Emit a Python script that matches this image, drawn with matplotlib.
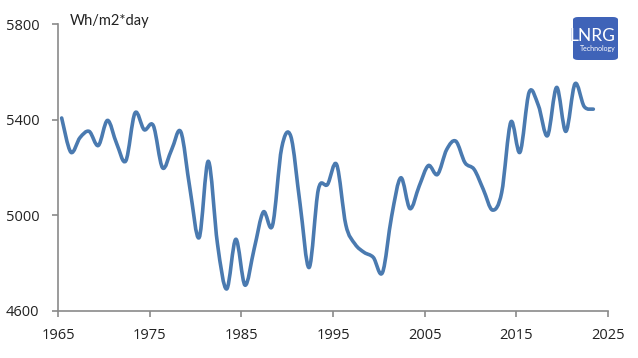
import matplotlib
matplotlib.use("Agg")
import matplotlib.pyplot as plt
import numpy as np
from matplotlib.path import Path
from matplotlib.patches import PathPatch, FancyBboxPatch

# yearly values, first point sits a bit after 1965 on the axis
x_start = 1965.4
values = [5407, 5264, 5325, 5351, 5292, 5397, 5300, 5228, 5428, 5358,
          5375, 5199, 5275, 5349, 5110, 4907, 5226, 4880, 4692, 4900,
          4708, 4860, 5014, 4958, 5282, 5330, 5050, 4782, 5108, 5129,
          5212, 4960, 4880, 4845, 4824, 4761, 4997, 5157, 5028, 5122,
          5208, 5171, 5275, 5310, 5220, 5192, 5108, 5022, 5095, 5390,
          5264, 5515, 5460, 5333, 5535, 5351, 5550, 5455, 5444]
years = [x_start + i for i in range(len(values))]

x_ticks = [1965, 1975, 1985, 1995, 2005, 2015, 2025]
y_ticks = [4600, 5000, 5400, 5800]
unit_label = "Wh/m2*day"

line_color = "#4a7ab0"
axis_color = "#8a8a8a"
logo_blue = "#3f63b8"

plt.rcParams['font.family'] = ['Open Sans', 'DejaVu Sans']

fig = plt.figure(figsize=(6.38, 3.58), dpi=100)
ax = fig.add_axes([58 / 638, 1 - 311 / 358, 550 / 638, 287 / 358])


# smoothed line like a spreadsheet "smooth line": catmull-rom as cubic beziers
def smooth_path(xs, ys):
    pts = np.column_stack([xs, ys]).astype(float)
    n = len(pts)
    verts = [pts[0]]
    codes = [Path.MOVETO]
    for i in range(n - 1):
        p0 = pts[i - 1] if i > 0 else pts[i]
        p1 = pts[i]
        p2 = pts[i + 1]
        p3 = pts[i + 2] if i + 2 < n else pts[i + 1]
        c1 = p1 + (p2 - p0) / 6.0
        c2 = p2 - (p3 - p1) / 6.0
        verts += [c1, c2, p2]
        codes += [Path.CURVE4] * 3
    return Path(verts, codes)


patch = PathPatch(smooth_path(years, values), facecolor="none",
                  edgecolor=line_color, lw=2.6, capstyle="round",
                  joinstyle="round")
ax.add_patch(patch)

ax.set_xlim(1965, 2025)
ax.set_ylim(4600, 5800)
ax.set_xticks(x_ticks)
ax.set_yticks(y_ticks)

for s in ["top", "right"]:
    ax.spines[s].set_visible(False)
for s in ["left", "bottom"]:
    ax.spines[s].set_color(axis_color)
    ax.spines[s].set_linewidth(1.2)

ax.tick_params(axis="both", direction="out", length=4.5, width=1.2,
               color=axis_color, labelsize=10.5, labelcolor="#222222")
ax.tick_params(axis="y", pad=9)
ax.tick_params(axis="x", pad=8)

fig.text(70 / 638, 1 - 21 / 358, unit_label, fontsize=10.5, color="#222222",
         va="center", ha="left", family=['Lato', 'DejaVu Sans'])

# logo: blue box, white lettering; the part of "L" outside the box stays blue
logo = FancyBboxPatch((573 / 638, 1 - 60 / 358), 45 / 638, 43 / 358,
                      boxstyle="round,pad=0,rounding_size=0.008",
                      transform=fig.transFigure, facecolor=logo_blue,
                      edgecolor="none")
fig.patches.append(logo)
fig.text(592 / 638, 1 - 36 / 358, "LNRG", fontsize=12.5, color=logo_blue,
         ha="center", va="center", family=['Lato', 'DejaVu Sans'])
t = fig.text(592 / 638, 1 - 36 / 358, "LNRG", fontsize=12.5, color="white",
             ha="center", va="center", family=['Lato', 'DejaVu Sans'])
t.set_clip_path(logo)
fig.text(598 / 638, 1 - 48.5 / 358, "Technology", fontsize=5, color="white",
         ha="center", va="center", family=['Lato', 'DejaVu Sans'])

fig.savefig("out.png", dpi=100)
